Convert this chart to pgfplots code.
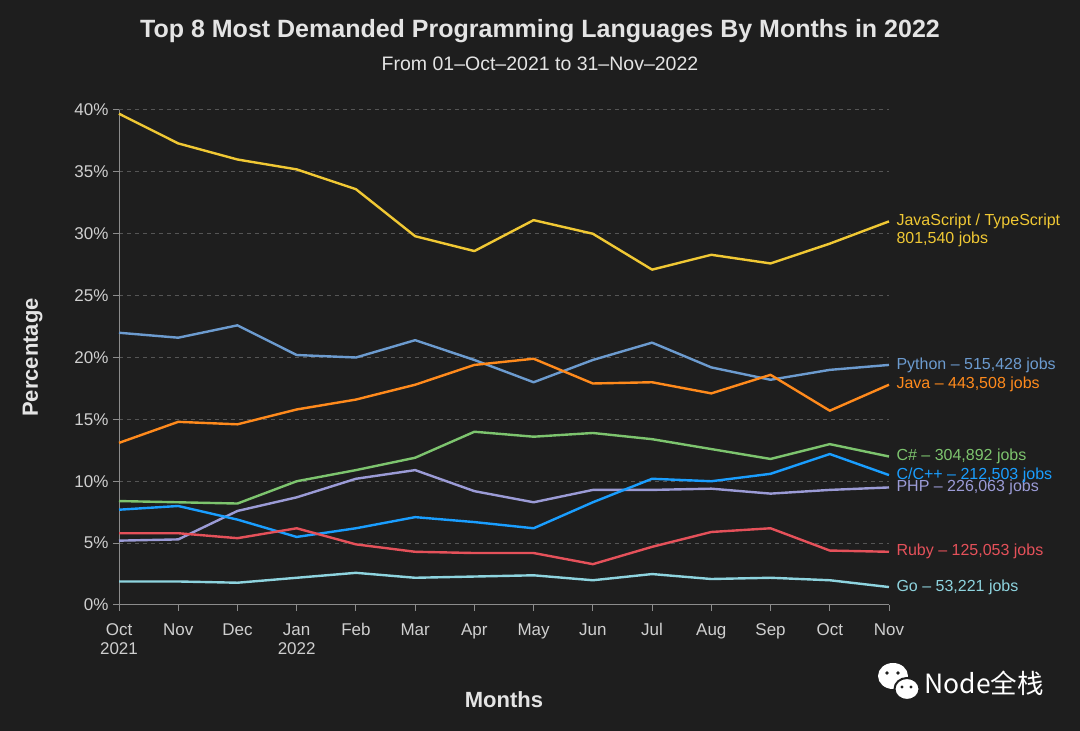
\documentclass[border=0pt]{standalone}
\usepackage{fontspec}
\setmainfont{Liberation Sans}
\newfontfamily\cjk{Noto Sans CJK SC}
\usepackage{pgfplots}
\usepackage{pgfplotstable}
\pgfplotsset{compat=1.18}
\definecolor{bg}{HTML}{1E1E1E}
\definecolor{titlec}{HTML}{E4E4E4}
\definecolor{tickc}{HTML}{CFCFCF}
\definecolor{gridc}{HTML}{555555}
\definecolor{axisc}{HTML}{8C8C8C}
\definecolor{js}{HTML}{F0C834}
\definecolor{py}{HTML}{6C9BCF}
\definecolor{java}{HTML}{FF8A1C}
\definecolor{cs}{HTML}{7DC46E}
\definecolor{cpp}{HTML}{1A9EFF}
\definecolor{php}{HTML}{9B9BD6}
\definecolor{ruby}{HTML}{E5515A}
\definecolor{go}{HTML}{8ED4DF}
\tikzset{lblf/.style={font=\fontsize{16}{18}\selectfont, anchor=west, xshift=4pt}}
\pgfplotstableread{
x js py java cs cpp php ruby go
0 39.7 22.0 13.1 8.4 7.7 5.2 5.8 1.9
1 37.3 21.6 14.8 8.3 8.0 5.3 5.8 1.9
2 36.0 22.6 14.6 8.2 6.9 7.6 5.4 1.8
3 35.2 20.2 15.8 10.0 5.5 8.7 6.2 2.2
4 33.6 20.0 16.6 10.9 6.2 10.2 4.9 2.6
5 29.8 21.4 17.8 11.9 7.1 10.9 4.3 2.2
6 28.6 19.8 19.4 14.0 6.7 9.2 4.2 2.3
7 31.1 18.0 19.9 13.6 6.2 8.3 4.2 2.4
8 30.0 19.8 17.9 13.9 8.3 9.3 3.3 2.0
9 27.1 21.2 18.0 13.4 10.2 9.3 4.7 2.5
10 28.3 19.2 17.1 12.6 10.0 9.4 5.9 2.1
11 27.6 18.2 18.6 11.8 10.6 9.0 6.2 2.2
12 29.2 19.0 15.7 13.0 12.2 9.3 4.4 2.0
13 31.0 19.4 17.8 12.0 10.5 9.5 4.3 1.45
}\data
\begin{document}
\begin{tikzpicture}
\useasboundingbox (0,0) rectangle (1080pt,731pt);
\fill[bg] (0,0) rectangle (1080pt,731pt);
\node[font=\bfseries\fontsize{25}{28}\selectfont, text=titlec] at (540pt,700pt) {Top 8 Most Demanded Programming Languages By Months in 2022};
\node[font=\fontsize{19.5}{22}\selectfont, text=titlec] at (540pt,667pt) {From 01--Oct--2021 to 31--Nov--2022};
\begin{axis}[
  at={(119pt,126pt)}, anchor=south west,
  scale only axis, width=770pt, height=495pt,
  xmin=0, xmax=13, ymin=0, ymax=40,
  xtick={0,...,13},
  xticklabels={{Oct\\2021},Nov,Dec,{Jan\\2022},Feb,Mar,Apr,May,Jun,Jul,Aug,Sep,Oct,Nov},
  ytick={0,5,...,40},
  yticklabels={0\%,5\%,10\%,15\%,20\%,25\%,30\%,35\%,40\%},
  axis x line*=bottom, axis y line*=left,
  axis line style={color=axisc, line width=1pt, -},
  tick style={color=axisc, line width=1pt},
  tick align=outside, major tick length=6pt,
  ymajorgrids,
  major grid style={color=gridc, dash pattern=on 4pt off 4pt, line width=1pt},
  xticklabel style={font=\fontsize{17}{19}\selectfont, text=tickc, align=center, yshift=-9pt},
  yticklabel style={font=\fontsize{17}{19}\selectfont, text=tickc, xshift=-1pt},
  xlabel={Months}, ylabel={Percentage},
  xlabel style={font=\bfseries\fontsize{22}{26}\selectfont, text=titlec, at={(axis description cs:0.5,-0.192)}, anchor=center},
  ylabel style={font=\bfseries\fontsize{22}{26}\selectfont, text=titlec, at={(axis description cs:-0.112,0.5)}, anchor=center},
  clip=false,
  every axis plot/.append style={line width=2.4pt, line join=round},
]
\addplot[js] table[x=x,y=js]{\data};
\addplot[py] table[x=x,y=py]{\data};
\addplot[java] table[x=x,y=java]{\data};
\addplot[cs] table[x=x,y=cs]{\data};
\addplot[php] table[x=x,y=php]{\data};
\addplot[cpp] table[x=x,y=cpp]{\data};
\addplot[ruby] table[x=x,y=ruby]{\data};
\addplot[go] table[x=x,y=go]{\data};
\node[lblf, text=js] at (axis cs:13,31.0) {JavaScript / TypeScript};
\node[lblf, text=js, yshift=-18pt] at (axis cs:13,31.0) {801,540 jobs};
\node[lblf, text=py] at (axis cs:13,19.4) {Python -- 515,428 jobs};
\node[lblf, text=java] at (axis cs:13,17.8) {Java -- 443,508 jobs};
\node[lblf, text=cs] at (axis cs:13,12.0) {C\# -- 304,892 jobs};
\node[lblf, text=php] at (axis cs:13,9.5) {PHP -- 226,063 jobs};
\node[lblf, text=cpp] at (axis cs:13,10.5) {C/C++ -- 212,503 jobs};
\node[lblf, text=ruby] at (axis cs:13,4.3) {Ruby -- 125,053 jobs};
\node[lblf, text=go] at (axis cs:13,1.45) {Go -- 53,221 jobs};
\end{axis}
% watermark
\fill[white] (893pt,55pt) ellipse (15pt and 13pt);
\fill[bg] (887pt,58pt) circle (1.9pt);
\fill[bg] (898pt,58pt) circle (1.9pt);
\filldraw[fill=white, draw=bg, line width=2pt] (907pt,42pt) ellipse (12.5pt and 11pt);
\fill[bg] (902pt,44pt) circle (1.6pt);
\fill[bg] (911pt,44pt) circle (1.6pt);
\node[font=\cjk\fontsize{26.5}{30}\selectfont, text=white, anchor=west] at (921pt,48pt) {Node全栈};
\end{tikzpicture}
\end{document}
